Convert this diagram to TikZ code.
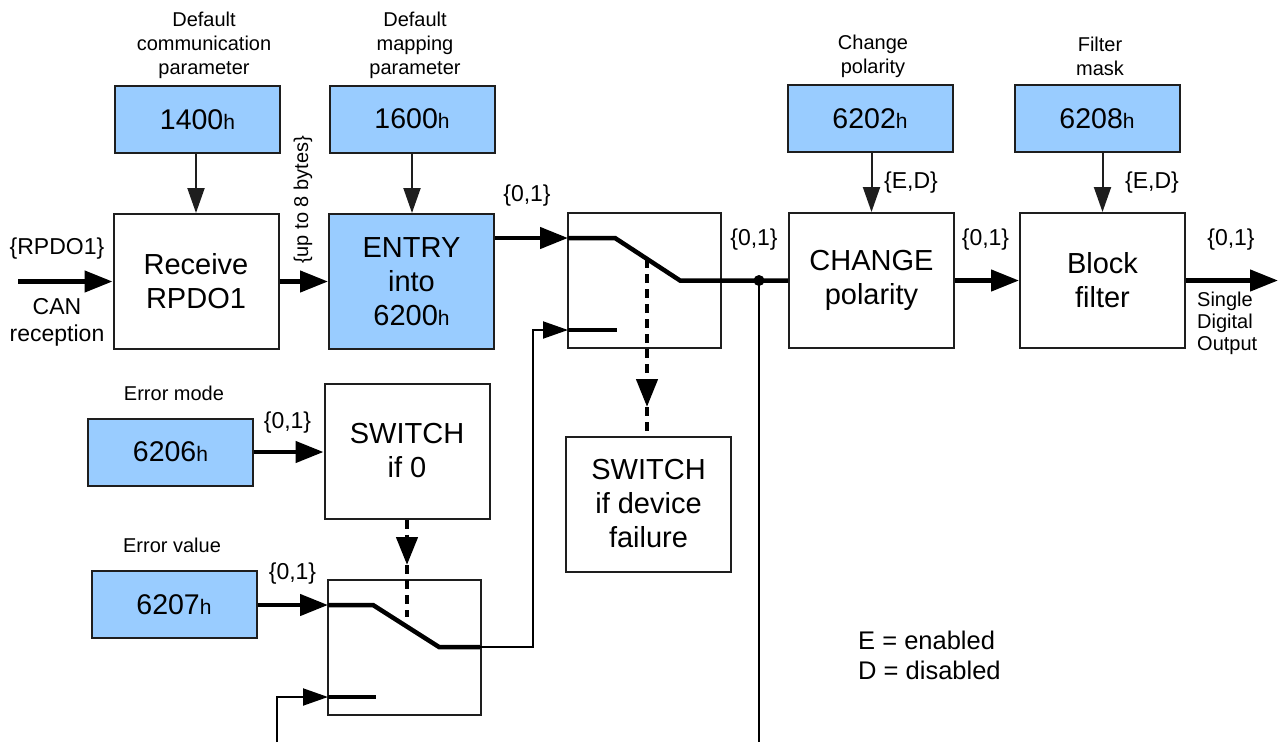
\documentclass[tikz,border=0pt]{standalone}
\usepackage{fontspec}
\setmainfont{Liberation Sans}
\usetikzlibrary{arrows.meta}
\definecolor{boxblue}{RGB}{153,204,255}
\definecolor{edge}{RGB}{30,30,30}
\newcommand\hsub{{\fontsize{21}{21}\selectfont h}}
\begin{document}
\begin{tikzpicture}[x=1pt,y=-1pt,
  blk/.style={draw=edge,line width=2pt,minimum width=165pt,minimum height=135pt,inner sep=0pt,align=center,font=\fontsize{29}{34}\selectfont},
  num/.style={blk,fill=boxblue,minimum height=67pt,font=\fontsize{28.5}{34}\selectfont},
  swbox/.style={draw=edge,line width=2pt,minimum width=153pt,minimum height=135pt,inner sep=0pt},
  lbl/.style={align=center,inner sep=0pt,font=\fontsize{20}{24}\selectfont},
  val/.style={inner sep=0pt,font=\fontsize{23}{26}\selectfont},
  tipT/.style={-{Triangle[length=28pt,width=21pt]}},
  tipt/.style={-{Triangle[length=25pt,width=17pt]}},
  thk/.style={line width=4.5pt},
  thn/.style={line width=2pt},
  dsh/.style={line width=4.5pt,dash pattern=on 9pt off 6pt},
]
\useasboundingbox (0,0) rectangle (1280,742);
\fill[white] (0,0) rectangle (1280,742);

% boxes
\node[num] (p1400) at (197.5,119.5) {1400\hsub};
\node[num] (p1600) at (412,119) {1600\hsub};
\node[blk] (recv) at (196,281.5) {Receive\\RPDO1};
\node[blk,fill=boxblue] (entry) at (411.5,281.5) {ENTRY\\into\\6200\hsub};
\node[swbox] (sw1) at (644.5,280.5) {};
\node[num] (p6202) at (870,118.5) {6202\hsub};
\node[blk] (chg) at (871.5,280.5) {CHANGE\\polarity};
\node[num] (p6208) at (1097,118.5) {6208\hsub};
\node[blk] (filt) at (1102.5,280.5) {Block\\filter};
\node[num] (p6206) at (170.5,452) {6206\hsub};
\node[blk] (if0) at (407,451) {SWITCH\\if 0};
\node[num] (p6207) at (174,604.5) {6207\hsub};
\node[swbox] (sw2) at (404,647.5) {};
\node[blk] (fail) at (648.5,504) {SWITCH\\if device\\failure};

% labels
\node[lbl] (lcomm) at (204,45) {Default\\communication\\parameter};
\node[lbl] (lmap) at (415,45) {Default\\mapping\\parameter};
\node[lbl] (lpol) at (873,56) {Change\\polarity};
\node[lbl] (lmask) at (1100,56) {Filter\\mask};
\node[lbl] (lemode) at (174,393) {Error mode};
\node[lbl] (levalue) at (172,545) {Error value};
\node[lbl,font=\fontsize{23}{27}\selectfont] (lrpdo) at (57,249) {\{RPDO1\}};
\node[lbl,font=\fontsize{23}{27}\selectfont] (lcan) at (57,322) {CAN\\reception};
\node[lbl,rotate=90] (lbytes) at (303,200) {\{up to 8 bytes\}};
\node[val] (v1) at (527,196) {\{0,1\}};
\node[val] (v2) at (754,240) {\{0,1\}};
\node[val] (v3) at (911,183) {\{E,D\}};
\node[val] (v4) at (1152,183) {\{E,D\}};
\node[val] (v5) at (985.5,240) {\{0,1\}};
\node[val] (v6) at (1231,240) {\{0,1\}};
\node[val] (v7) at (287.5,423) {\{0,1\}};
\node[val] (v8) at (292.5,574) {\{0,1\}};
\node[lbl,align=left,anchor=west,font=\fontsize{20}{22}\selectfont] (lout) at (1197,323) {Single\\Digital\\Output};
\node[lbl,align=left,anchor=west,font=\fontsize{25.5}{30}\selectfont] (legend) at (858,655) {E = enabled\\D = disabled};

% coordinates
\coordinate (canin) at (18,281.5);
\coordinate (s1a) at (568,238);
\coordinate (s1b) at (615,238);
\coordinate (s1c) at (680,280.5);
\coordinate (s1d) at (568,330);
\coordinate (s1e) at (617,330);
\coordinate (fb1) at (533,647);
\coordinate (fb2) at (533,330);
\coordinate (s2a) at (328,605);
\coordinate (s2b) at (373,605);
\coordinate (s2c) at (439,647);
\coordinate (s2out) at (480,647);
\coordinate (s2d) at (328,697);
\coordinate (s2e) at (376,697);
\coordinate (in2a) at (277,742);
\coordinate (in2b) at (277,697);
\coordinate (d1s) at (647,259);
\coordinate (d1m) at (647,407);
\coordinate (d2m) at (407,565);
\coordinate (d2e) at (407,617);
\coordinate (dotend) at (759,742);
\coordinate (out) at (1278,280.5);

% vertical parameter arrows
\draw[thn,tipt,draw=edge] (recv.north |- p1400.south) -- (recv.north);
\draw[thn,tipt,draw=edge] (p1600.south) -- (p1600.south |- entry.north);
\draw[thn,tipt,draw=edge] (chg.north |- p6202.south) -- (chg.north);
\draw[thn,tipt,draw=edge] (filt.north |- p6208.south) -- (filt.north);

% main signal path
\draw[thk,tipT] (canin) -- (recv.west);
\draw[thk,tipT] (recv.east) -- (entry.west);
\draw[thk,tipT] (entry.east |- s1a) -- (s1a);
\draw[thk] (s1a) -- (s1b) -- (s1c) -- (chg.west);
\node[circle,fill=black,inner sep=0pt,minimum size=11pt] (dot) at (759,280.5) {};
\draw[thn] (dot.center) -- (dotend);
\draw[thk,tipT] (chg.east) -- (filt.west);
\draw[thk,tipT] (filt.east) -- (out);

% switch 1 lower input
\draw[thk] (s1d) -- (s1e);
\draw[thn,tipt] (s2out) -- (fb1) -- (fb2) -- (s1d);

% switch 1 control
\draw[dsh,tipT] (d1s) -- (d1m);
\draw[dsh] (d1m) -- (d1m |- fail.north);

% error mode
\draw[thk,tipT] (p6206.east) -- (if0.west |- p6206.east);

% switch 2
\draw[thk,tipT] (p6207.east |- s2a) -- (s2a);
\draw[thk] (s2a) -- (s2b) -- (s2c) -- (s2out);
\draw[thk] (s2d) -- (s2e);
\draw[thn,tipt] (in2a) -- (in2b) -- (s2d);
\draw[dsh,tipT] (if0.south) -- (d2m);
\draw[dsh] (d2m) -- (d2e);
\end{tikzpicture}
\end{document}
